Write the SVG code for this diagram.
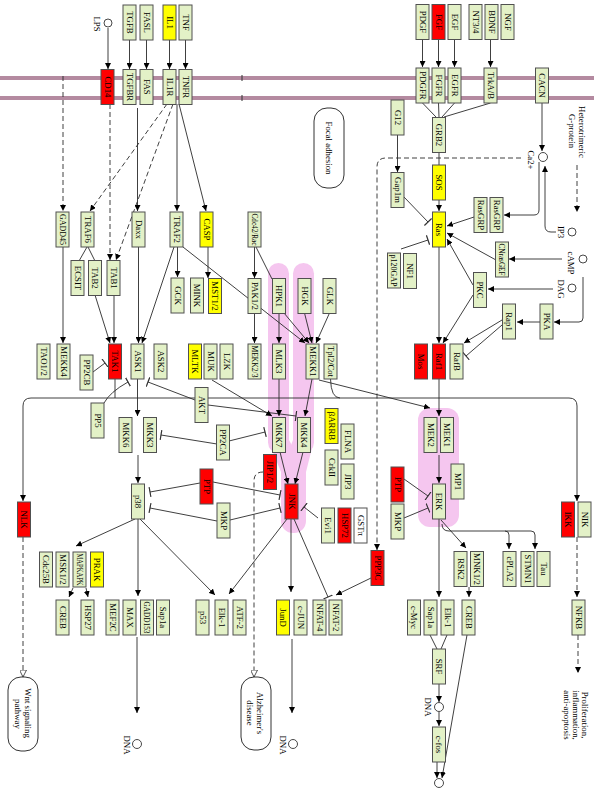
<svg xmlns="http://www.w3.org/2000/svg" width="600" height="792" viewBox="0 0 600 792">
<style>
.n rect{fill:#e3f1c7;stroke:#505050;stroke-width:1}
.n.r rect{fill:#ff0000}
.n.y rect{fill:#ffff00}
.n.w rect{fill:#ffffff}
text{font-family:"Liberation Serif",serif;font-size:8.8px;text-anchor:middle;dominant-baseline:central;fill:#000}
.e path{fill:none;stroke:#2a2a2a;stroke-width:0.9}
.e .d{stroke-dasharray:5 3}
.a{marker-end:url(#a)}
.t{marker-end:url(#t)}
.h{marker-end:url(#h)}
.mem{stroke:#b48aa0;stroke-width:4}
.pk{fill:#f5c6ef;stroke:none}
.c{fill:#fff;stroke:#333;stroke-width:0.9}
.box{fill:#fff;stroke:#333;stroke-width:1}
</style>
<defs>
<marker id="a" viewBox="0 0 10 10" refX="10" refY="5" markerWidth="6" markerHeight="6" markerUnits="userSpaceOnUse" orient="auto"><path d="M0,0 L10,5 L0,10 z" fill="#000"/></marker>
<marker id="h" viewBox="0 0 10 10" refX="10" refY="5" markerWidth="7" markerHeight="7" markerUnits="userSpaceOnUse" orient="auto"><path d="M0,0 L10,5 L0,10 z" fill="#fff" stroke="#333" stroke-width="1.2"/></marker>
<marker id="t" viewBox="-1 -5 2 10" refX="0" refY="0" markerWidth="2" markerHeight="10" markerUnits="userSpaceOnUse" orient="auto"><path d="M0,-5 V5" stroke="#333" stroke-width="1.2"/></marker>
</defs>
<rect width="600" height="792" fill="#fff"/>

<g id="membrane">
<line class="mem" x1="0" y1="78" x2="594" y2="78"/>
<line class="mem" x1="0" y1="98" x2="594" y2="98"/>
<line x1="242" y1="75" x2="242" y2="81" stroke="#333" stroke-width="1"/>
<line x1="242" y1="95" x2="242" y2="101" stroke="#333" stroke-width="1"/>
</g>

<g id="highlights">
<rect class="pk" x="268" y="263" width="21" height="190" rx="10.5"/>
<rect class="pk" x="293" y="263" width="21" height="190" rx="10.5"/>
<polygon class="pk" points="268,440 289,440 306,472 281,472"/>
<polygon class="pk" points="293,440 314,440 306,472 281,472"/>
<rect class="pk" x="281" y="450" width="25" height="83" rx="12"/>
<rect class="pk" x="418" y="408" width="41" height="119" rx="12"/>
</g>

<g id="edges" class="e">
<path class="a" d="M108,28 V69"/>
<path class="a" d="M129.5,40 V69"/>
<path class="a" d="M146.5,40 V69"/>
<path class="a" d="M169.5,40 V69"/>
<path class="a" d="M185.5,40 V69"/>
<path class="a" d="M422.5,39 V67"/>
<path class="a" d="M438.5,39 V67"/>
<path class="a" d="M454.5,39 V67"/>
<path class="a" d="M490.5,39 V67"/>
<path d="M422.5,103 L436,117"/>
<path d="M438.5,103 L439,117"/>
<path d="M454.5,103 L442,117"/>
<path d="M490.5,103 L444,117"/>
<path d="M439,153 V165"/>
<path class="a" d="M439,200 V211"/>
<path class="a" d="M542,103 V151"/>
<path class="a" d="M556,232 H551 Q545,232 545,226 V166"/>
<path class="a" d="M539,162 V210 Q539,215 534,215 H504"/>
<path class="a d" d="M577,165 V212"/>
<path class="a" d="M562,259 H509"/>
<path class="a" d="M553,289 H488"/>
<path class="a" d="M583,277 V318 Q583,322 579,322 H554"/>
<path class="a" d="M540,322 H517"/>
<path class="a" d="M502,320 L464,343"/>
<path class="t" d="M502,325 L466,356"/>
<path class="a" d="M439,247 V343"/>
<path class="a" d="M473,295 L443,343"/>
<path class="a" d="M473,285 L447,239"/>
<path class="a" d="M496,260 L447,233"/>
<path class="a" d="M474,217 L447,226"/>
<path class="t" d="M404,197 L428,222"/>
<path class="t" d="M401,249 L428,240"/>
<path class="a" d="M397.5,135 V172"/>
<path class="a d" d="M521,158 H386 Q377,158 377,167 V550"/>

<path class="a d" d="M167,104 L90,211"/>
<path class="a d" d="M173,104 L116,260"/>
<path class="a d" d="M110,104 V260"/>
<path class="a" d="M137.5,108 V211"/>
<path class="a" d="M177,104 V211"/>
<path class="a" d="M179,104 L206,211"/>
<path class="a d" d="M63,76 V211"/>
<path class="a" d="M63,247 V343"/>
<path d="M87,247 L79,261"/>
<path d="M88,247 L95,261"/>
<path class="a" d="M95,295 L110,343"/>
<path class="a" d="M114,295 V343"/>
<path class="a" d="M138.5,247 V343"/>
<path class="a" d="M174,247 L142,343"/>
<path class="a" d="M177.5,247 V277"/>
<path class="a" d="M183,247 L305,343"/>
<path class="a" d="M208,247 V278"/>
<path class="a" d="M254.5,247 V278"/>
<path d="M256,247 L272,279"/>
<path class="a" d="M254.5,313 V343"/>
<path class="a" d="M279,313 V343"/>
<path class="a" d="M284,313 L309,343"/>
<path class="a" d="M304.5,313 L312,343"/>
<path class="a" d="M329.5,313 L316,343"/>
<path class="t" d="M93,372 L105,363"/>

<path d="M115,379 V398"/>
<path class="a" d="M115,398 H31 Q23,398 23,406 V501"/>
<path class="a" d="M115,398 H569 Q577,398 577,406 V501"/>
<path d="M330.5,379 Q331,398 340,398"/>
<path class="a" d="M137.5,379 V416"/>
<path class="t" d="M104,403 Q110,392 128,382"/>
<path class="t" d="M195,400 L148,382"/>
<path class="t" d="M208,405 L296,416"/>
<path class="a" d="M212,380 L272,416"/>
<path class="a" d="M279,379 V416"/>
<path class="a" d="M312,379 L305,416"/>
<path class="a" d="M319,380 L430,408"/>
<path class="a" d="M439,379 V416"/>
<path class="t" d="M229,441 L265,432"/>
<path class="t" d="M217,444 L161,435"/>

<path class="a" d="M138,455 V483"/>
<path class="a" d="M280,452 L288,484"/>
<path class="a" d="M303,452 L295,484"/>
<path class="a" d="M439,455 V483"/>
<path class="t" d="M200,483 L150,492"/>
<path class="t" d="M217,521 L150,508"/>
<path class="t" d="M213,482 L280,495"/>
<path class="t" d="M230,520 L280,508"/>
<path class="t" d="M318,518 L304,507"/>
<path class="t" d="M404,479 L428,496"/>
<path class="t" d="M404,518 L428,508"/>

<path class="h d" d="M263,472 Q254,472 254,481 V677"/>
<path class="h d" d="M23,537 V677"/>

<path class="a" d="M135,519 L76,546"/>
<path class="a" d="M138,519 V596"/>
<path class="a" d="M140,519 L215,595"/>
<path class="a" d="M73,588 L69,597"/>
<path class="a" d="M86,588 L88,597"/>
<path class="a" d="M287,519 L229,594"/>
<path class="a" d="M291,519 V592"/>
<path class="t" d="M294,519 L328,597"/>
<path class="a" d="M371,578 L336,595"/>

<path class="a" d="M439,519 V597"/>
<path class="a" d="M441,520 L466,548"/>
<path class="a" d="M442,524 Q442,531 449,531 H505 Q509,531 509,535 V549"/>
<path class="a" d="M505,531 H531 Q535,531 535,535 V549"/>
<path class="a" d="M469,587 V597"/>
<path class="a d" d="M577,537 V597"/>
<path class="a d" d="M578,635 V673"/>

<path class="a" d="M137,637 V713"/>
<path class="a" d="M292,639 V713"/>
<path d="M430,635 L437,649"/>
<path d="M447,635 L441,649"/>
<path class="a" d="M439,684 V702"/>
<path class="a" d="M439,712 V726"/>
<path class="a" d="M437,762 V778"/>
<path class="a" d="M467,635 L442,778"/>
</g>

<g id="nodes">
<g id="n_TGFB" class="n" transform="translate(129.5 22.5)"><rect x="-6.5" y="-17.5" width="13" height="35"/><text transform="rotate(90)">TGFB</text></g>
<g id="n_FASL" class="n" transform="translate(146.5 22.5)"><rect x="-6.5" y="-17.5" width="13" height="35"/><text transform="rotate(90)">FASL</text></g>
<g id="n_IL1" class="n y" transform="translate(169.5 22.5)"><rect x="-6.5" y="-17.5" width="13" height="35"/><text transform="rotate(90)">IL1</text></g>
<g id="n_TNF" class="n" transform="translate(185.5 22.5)"><rect x="-6.5" y="-17.5" width="13" height="35"/><text transform="rotate(90)">TNF</text></g>
<g id="n_PDGF" class="n" transform="translate(422.5 22)"><rect x="-6.5" y="-17.5" width="13" height="35"/><text transform="rotate(90)">PDGF</text></g>
<g id="n_FGF" class="n r" transform="translate(438.5 22)"><rect x="-6.5" y="-17.5" width="13" height="35"/><text transform="rotate(90)">FGF</text></g>
<g id="n_EGF" class="n" transform="translate(454.5 22)"><rect x="-6.5" y="-17.5" width="13" height="35"/><text transform="rotate(90)">EGF</text></g>
<g id="n_NT34" class="n" transform="translate(475.5 22)"><rect x="-6.5" y="-17.5" width="13" height="35"/><text transform="rotate(90)">NT3/4</text></g>
<g id="n_BDNF" class="n" transform="translate(491.5 22)"><rect x="-6.5" y="-17.5" width="13" height="35"/><text transform="rotate(90)">BDNF</text></g>
<g id="n_NGF" class="n" transform="translate(507.5 22)"><rect x="-6.5" y="-17.5" width="13" height="35"/><text transform="rotate(90)">NGF</text></g>

<g id="n_CD14" class="n r" transform="translate(107.5 87)"><rect x="-6.5" y="-17.5" width="13" height="35"/><text transform="rotate(90)">CD14</text></g>
<g id="n_TGFBR" class="n" transform="translate(129.5 87)"><rect x="-6.5" y="-17.5" width="13" height="35"/><text transform="rotate(90)">TGFBR</text></g>
<g id="n_FAS" class="n" transform="translate(146.5 87)"><rect x="-6.5" y="-17.5" width="13" height="35"/><text transform="rotate(90)">FAS</text></g>
<g id="n_IL1R" class="n" transform="translate(169.5 87)"><rect x="-6.5" y="-17.5" width="13" height="35"/><text transform="rotate(90)">IL1R</text></g>
<g id="n_TNFR" class="n" transform="translate(185.5 87)"><rect x="-6.5" y="-17.5" width="13" height="35"/><text transform="rotate(90)">TNFR</text></g>
<g id="n_PDGFR" class="n" transform="translate(422.5 85.5)"><rect x="-6.5" y="-17.5" width="13" height="35"/><text transform="rotate(90)">PDGFR</text></g>
<g id="n_FGFR" class="n" transform="translate(438.5 85.5)"><rect x="-6.5" y="-17.5" width="13" height="35"/><text transform="rotate(90)">FGFR</text></g>
<g id="n_EGFR" class="n" transform="translate(454.5 85.5)"><rect x="-6.5" y="-17.5" width="13" height="35"/><text transform="rotate(90)">EGFR</text></g>
<g id="n_TrkAB" class="n" transform="translate(490.5 85.5)"><rect x="-6.5" y="-17.5" width="13" height="35"/><text transform="rotate(90)">TrkA/B</text></g>
<g id="n_CACN" class="n" transform="translate(542 85.5)"><rect x="-6.5" y="-17.5" width="13" height="35"/><text transform="rotate(90)">CACN</text></g>

<g id="n_G12" class="n" transform="translate(397.5 117.5)"><rect x="-6.5" y="-17.5" width="13" height="35"/><text transform="rotate(90)">G12</text></g>
<g id="n_GRB2" class="n" transform="translate(439 135)"><rect x="-6.5" y="-17.5" width="13" height="35"/><text transform="rotate(90)">GRB2</text></g>
<g id="n_SOS" class="n y" transform="translate(439 182.5)"><rect x="-6.5" y="-17.5" width="13" height="35"/><text transform="rotate(90)">SOS</text></g>
<g id="n_Gap1m" class="n" transform="translate(397.5 190)"><rect x="-6.5" y="-17.5" width="13" height="35"/><text transform="rotate(90)">Gap1m</text></g>
<g id="n_RasGRP1" class="n" transform="translate(480.5 215)"><rect x="-6.5" y="-17.5" width="13" height="35"/><text transform="rotate(90)">RasGRP</text></g>
<g id="n_RasGRP2" class="n" transform="translate(496.5 215)"><rect x="-6.5" y="-17.5" width="13" height="35"/><text transform="rotate(90)">RasGRP</text></g>
<g id="n_Ras" class="n y" transform="translate(439 229.5)"><rect x="-6.5" y="-17.5" width="13" height="35"/><text transform="rotate(90)">Ras</text></g>
<g id="n_CNrasGEF" class="n" transform="translate(502 259.5)"><rect x="-6.5" y="-17.5" width="13" height="35"/><text transform="rotate(90)" textLength="32" lengthAdjust="spacingAndGlyphs">CNrasGEF</text></g>
<g id="n_PKC" class="n" transform="translate(480 290)"><rect x="-6.5" y="-17.5" width="13" height="35"/><text transform="rotate(90)">PKC</text></g>
<g id="n_p120GAP" class="n" transform="translate(394 270.5)"><rect x="-6.5" y="-17.5" width="13" height="35"/><text transform="rotate(90)" textLength="32" lengthAdjust="spacingAndGlyphs">p120GAP</text></g>
<g id="n_NF1" class="n" transform="translate(410 271)"><rect x="-6.5" y="-17.5" width="13" height="35"/><text transform="rotate(90)">NF1</text></g>
<g id="n_PKA" class="n" transform="translate(546.5 321.5)"><rect x="-6.5" y="-17.5" width="13" height="35"/><text transform="rotate(90)">PKA</text></g>
<g id="n_Rap1" class="n" transform="translate(509 321.5)"><rect x="-6.5" y="-17.5" width="13" height="35"/><text transform="rotate(90)">Rap1</text></g>
<g id="n_RafB" class="n" transform="translate(456.5 361.5)"><rect x="-6.5" y="-17.5" width="13" height="35"/><text transform="rotate(90)">RafB</text></g>
<g id="n_Raf1" class="n r" transform="translate(439 361.5)"><rect x="-6.5" y="-17.5" width="13" height="35"/><text transform="rotate(90)">Raf1</text></g>
<g id="n_Mos" class="n r" transform="translate(421 361.5)"><rect x="-6.5" y="-17.5" width="13" height="35"/><text transform="rotate(90)">Mos</text></g>

<g id="n_GADD45" class="n" transform="translate(62.5 229.5)"><rect x="-6.5" y="-17.5" width="13" height="35"/><text transform="rotate(90)" textLength="31" lengthAdjust="spacingAndGlyphs">GADD45</text></g>
<g id="n_TRAF6" class="n" transform="translate(87.5 229.5)"><rect x="-6.5" y="-17.5" width="13" height="35"/><text transform="rotate(90)">TRAF6</text></g>
<g id="n_Daxx" class="n" transform="translate(138.5 229.5)"><rect x="-6.5" y="-17.5" width="13" height="35"/><text transform="rotate(90)">Daxx</text></g>
<g id="n_TRAF2" class="n" transform="translate(176.5 229.5)"><rect x="-6.5" y="-17.5" width="13" height="35"/><text transform="rotate(90)">TRAF2</text></g>
<g id="n_CASP" class="n y" transform="translate(206.5 229.5)"><rect x="-6.5" y="-17.5" width="13" height="35"/><text transform="rotate(90)">CASP</text></g>
<g id="n_Cdc42Rac" class="n" transform="translate(254.5 229.5)"><rect x="-6.5" y="-17.5" width="13" height="35"/><text transform="rotate(90)" textLength="32" lengthAdjust="spacingAndGlyphs">Cdc42/Rac</text></g>
<g id="n_ECSIT" class="n" transform="translate(77.5 278)"><rect x="-6.5" y="-17.5" width="13" height="35"/><text transform="rotate(90)">ECSIT</text></g>
<g id="n_TAB2" class="n" transform="translate(95 278)"><rect x="-6.5" y="-17.5" width="13" height="35"/><text transform="rotate(90)">TAB2</text></g>
<g id="n_TAB1" class="n" transform="translate(113.5 278)"><rect x="-6.5" y="-17.5" width="13" height="35"/><text transform="rotate(90)">TAB1</text></g>
<g id="n_GCK" class="n" transform="translate(177.5 295.5)"><rect x="-6.5" y="-17.5" width="13" height="35"/><text transform="rotate(90)">GCK</text></g>
<g id="n_MINK" class="n" transform="translate(197 295.5)"><rect x="-6.5" y="-17.5" width="13" height="35"/><text transform="rotate(90)">MINK</text></g>
<g id="n_MST12" class="n y" transform="translate(215 296)"><rect x="-6.5" y="-17.5" width="13" height="35"/><text transform="rotate(90)">MST1/2</text></g>
<g id="n_PAK12" class="n" transform="translate(254.5 296)"><rect x="-6.5" y="-17.5" width="13" height="35"/><text transform="rotate(90)">PAK1/2</text></g>
<g id="n_HPK1" class="n" transform="translate(279 296)"><rect x="-6.5" y="-17.5" width="13" height="35"/><text transform="rotate(90)">HPK1</text></g>
<g id="n_HGK" class="n" transform="translate(304.5 296)"><rect x="-6.5" y="-17.5" width="13" height="35"/><text transform="rotate(90)">HGK</text></g>
<g id="n_GLK" class="n" transform="translate(329.5 296)"><rect x="-6.5" y="-17.5" width="13" height="35"/><text transform="rotate(90)">GLK</text></g>

<g id="n_TAO12" class="n" transform="translate(43.5 361.5)"><rect x="-6.5" y="-17.5" width="13" height="35"/><text transform="rotate(90)">TAO1/2</text></g>
<g id="n_MEKK4" class="n" transform="translate(63.5 361.5)"><rect x="-6.5" y="-17.5" width="13" height="35"/><text transform="rotate(90)">MEKK4</text></g>
<g id="n_PP2CB" class="n" transform="translate(86.5 372.5)"><rect x="-6.5" y="-17.5" width="13" height="35"/><text transform="rotate(90)">PP2CB</text></g>
<g id="n_TAK1" class="n r" transform="translate(115 361.5)"><rect x="-6.5" y="-17.5" width="13" height="35"/><text transform="rotate(90)">TAK1</text></g>
<g id="n_ASK1" class="n" transform="translate(137.5 361.5)"><rect x="-6.5" y="-17.5" width="13" height="35"/><text transform="rotate(90)">ASK1</text></g>
<g id="n_ASK2" class="n" transform="translate(160.5 361.5)"><rect x="-6.5" y="-17.5" width="13" height="35"/><text transform="rotate(90)">ASK2</text></g>
<g id="n_MLTK" class="n y" transform="translate(195 361.5)"><rect x="-6.5" y="-17.5" width="13" height="35"/><text transform="rotate(90)">MLTK</text></g>
<g id="n_MUK" class="n" transform="translate(210.5 361.5)"><rect x="-6.5" y="-17.5" width="13" height="35"/><text transform="rotate(90)">MUK</text></g>
<g id="n_LZK" class="n" transform="translate(226.5 361.5)"><rect x="-6.5" y="-17.5" width="13" height="35"/><text transform="rotate(90)">LZK</text></g>
<g id="n_MEKK23" class="n" transform="translate(254.5 361.5)"><rect x="-6.5" y="-17.5" width="13" height="35"/><text transform="rotate(90)" textLength="32" lengthAdjust="spacingAndGlyphs">MEKK2/3</text></g>
<g id="n_MLK3" class="n" transform="translate(279 361.5)"><rect x="-6.5" y="-17.5" width="13" height="35"/><text transform="rotate(90)">MLK3</text></g>
<g id="n_MEKK1" class="n" transform="translate(312.5 361.5)"><rect x="-6.5" y="-17.5" width="13" height="35"/><text transform="rotate(90)">MEKK1</text></g>
<g id="n_Tpl2Cot" class="n" transform="translate(330.5 361.5)"><rect x="-6.5" y="-17.5" width="13" height="35"/><text transform="rotate(90)" textLength="31" lengthAdjust="spacingAndGlyphs">Tpl2/Cot</text></g>

<g id="n_AKT" class="n" transform="translate(201.5 405)"><rect x="-6.5" y="-17.5" width="13" height="35"/><text transform="rotate(90)">AKT</text></g>
<g id="n_PP5" class="n" transform="translate(97.5 420.5)"><rect x="-6.5" y="-17.5" width="13" height="35"/><text transform="rotate(90)">PP5</text></g>
<g id="n_MKK6" class="n" transform="translate(125.5 435)"><rect x="-6.5" y="-17.5" width="13" height="35"/><text transform="rotate(90)">MKK6</text></g>
<g id="n_MKK3" class="n" transform="translate(150 435)"><rect x="-6.5" y="-17.5" width="13" height="35"/><text transform="rotate(90)">MKK3</text></g>
<g id="n_PP2CA" class="n" transform="translate(223 442.5)"><rect x="-6.5" y="-17.5" width="13" height="35"/><text transform="rotate(90)">PP2CA</text></g>
<g id="n_MKK7" class="n" transform="translate(279 435)"><rect x="-6.5" y="-17.5" width="13" height="35"/><text transform="rotate(90)">MKK7</text></g>
<g id="n_MKK4" class="n" transform="translate(304 435)"><rect x="-6.5" y="-17.5" width="13" height="35"/><text transform="rotate(90)">MKK4</text></g>
<g id="n_bARRB" class="n y" transform="translate(331.5 426)"><rect x="-6.5" y="-17.5" width="13" height="35"/><text transform="rotate(90)">βARRB</text></g>
<g id="n_FLNA" class="n" transform="translate(347.5 441.5)"><rect x="-6.5" y="-17.5" width="13" height="35"/><text transform="rotate(90)">FLNA</text></g>
<g id="n_CrkII" class="n" transform="translate(331.5 467.5)"><rect x="-6.5" y="-17.5" width="13" height="35"/><text transform="rotate(90)">CrkII</text></g>
<g id="n_JIP3" class="n" transform="translate(347.5 481.5)"><rect x="-6.5" y="-17.5" width="13" height="35"/><text transform="rotate(90)">JIP3</text></g>
<g id="n_JIP12" class="n r" transform="translate(270 472)"><rect x="-6.5" y="-17.5" width="13" height="35"/><text transform="rotate(90)">JIP1/2</text></g>
<g id="n_JNK" class="n r" transform="translate(291.5 501.5)"><rect x="-6.5" y="-17.5" width="13" height="35"/><text transform="rotate(90)">JNK</text></g>
<g id="n_p38" class="n" transform="translate(138 501.5)"><rect x="-6.5" y="-17.5" width="13" height="35"/><text transform="rotate(90)">p38</text></g>
<g id="n_NLK" class="n r" transform="translate(24 519.5)"><rect x="-6.5" y="-17.5" width="13" height="35"/><text transform="rotate(90)">NLK</text></g>
<g id="n_PTP1" class="n r" transform="translate(206.5 486.5)"><rect x="-6.5" y="-17.5" width="13" height="35"/><text transform="rotate(90)">PTP</text></g>
<g id="n_MKP1" class="n" transform="translate(223.5 520.5)"><rect x="-6.5" y="-17.5" width="13" height="35"/><text transform="rotate(90)">MKP</text></g>
<g id="n_Evi1" class="n" transform="translate(328 525.5)"><rect x="-6.5" y="-17.5" width="13" height="35"/><text transform="rotate(90)">Evi1</text></g>
<g id="n_HSP72" class="n r" transform="translate(344.5 525.5)"><rect x="-6.5" y="-17.5" width="13" height="35"/><text transform="rotate(90)">HSP72</text></g>
<g id="n_GSTpi" class="n w" transform="translate(360.5 525.5)"><rect x="-6.5" y="-17.5" width="13" height="35"/><text transform="rotate(90)">GSTπ</text></g>
<g id="n_PTP2" class="n r" transform="translate(397.5 484.5)"><rect x="-6.5" y="-17.5" width="13" height="35"/><text transform="rotate(90)">PTP</text></g>
<g id="n_MKP2" class="n" transform="translate(397.5 521.5)"><rect x="-6.5" y="-17.5" width="13" height="35"/><text transform="rotate(90)">MKP</text></g>
<g id="n_PPP3C" class="n r" transform="translate(377.5 568)"><rect x="-6.5" y="-17.5" width="13" height="35"/><text transform="rotate(90)">PPP3C</text></g>
<g id="n_MEK2" class="n" transform="translate(430.5 435)"><rect x="-6.5" y="-17.5" width="13" height="35"/><text transform="rotate(90)">MEK2</text></g>
<g id="n_MEK1" class="n" transform="translate(447 435)"><rect x="-6.5" y="-17.5" width="13" height="35"/><text transform="rotate(90)">MEK1</text></g>
<g id="n_MP1" class="n" transform="translate(457.5 481.5)"><rect x="-6.5" y="-17.5" width="13" height="35"/><text transform="rotate(90)">MP1</text></g>
<g id="n_ERK" class="n" transform="translate(439 501.5)"><rect x="-6.5" y="-17.5" width="13" height="35"/><text transform="rotate(90)">ERK</text></g>
<g id="n_IKK" class="n r" transform="translate(568 519.5)"><rect x="-6.5" y="-17.5" width="13" height="35"/><text transform="rotate(90)">IKK</text></g>
<g id="n_NIK" class="n" transform="translate(584.5 519.5)"><rect x="-6.5" y="-17.5" width="13" height="35"/><text transform="rotate(90)">NIK</text></g>

<g id="n_Cdc25B" class="n" transform="translate(46 569.5)"><rect x="-6.5" y="-17.5" width="13" height="35"/><text transform="rotate(90)">Cdc25B</text></g>
<g id="n_MSK12" class="n" transform="translate(62.5 569.5)"><rect x="-6.5" y="-17.5" width="13" height="35"/><text transform="rotate(90)">MSK1/2</text></g>
<g id="n_MAPKAPK" class="n" transform="translate(79.5 569.5)"><rect x="-6.5" y="-17.5" width="13" height="35"/><text transform="rotate(90)" textLength="32" lengthAdjust="spacingAndGlyphs">MAPKAPK</text></g>
<g id="n_PRAK" class="n y" transform="translate(97 569.5)"><rect x="-6.5" y="-17.5" width="13" height="35"/><text transform="rotate(90)">PRAK</text></g>
<g id="n_RSK2" class="n" transform="translate(460.5 569)"><rect x="-6.5" y="-17.5" width="13" height="35"/><text transform="rotate(90)">RSK2</text></g>
<g id="n_MNK12" class="n" transform="translate(477 569)"><rect x="-6.5" y="-17.5" width="13" height="35"/><text transform="rotate(90)">MNK1/2</text></g>
<g id="n_cPLA2" class="n" transform="translate(509.5 569)"><rect x="-6.5" y="-17.5" width="13" height="35"/><text transform="rotate(90)">cPLA2</text></g>
<g id="n_STMN1" class="n" transform="translate(527.5 569)"><rect x="-6.5" y="-17.5" width="13" height="35"/><text transform="rotate(90)">STMN1</text></g>
<g id="n_Tau" class="n" transform="translate(543.5 569)"><rect x="-6.5" y="-17.5" width="13" height="35"/><text transform="rotate(90)">Tau</text></g>

<g id="n_CREB1" class="n" transform="translate(62.5 617.5)"><rect x="-6.5" y="-17.5" width="13" height="35"/><text transform="rotate(90)">CREB</text></g>
<g id="n_HSP27" class="n" transform="translate(87.5 617.5)"><rect x="-6.5" y="-17.5" width="13" height="35"/><text transform="rotate(90)">HSP27</text></g>
<g id="n_MEF2C" class="n" transform="translate(112.5 617.5)"><rect x="-6.5" y="-17.5" width="13" height="35"/><text transform="rotate(90)">MEF2C</text></g>
<g id="n_MAX" class="n" transform="translate(129.5 617.5)"><rect x="-6.5" y="-17.5" width="13" height="35"/><text transform="rotate(90)">MAX</text></g>
<g id="n_GADD153" class="n" transform="translate(147 617.5)"><rect x="-6.5" y="-17.5" width="13" height="35"/><text transform="rotate(90)" textLength="32" lengthAdjust="spacingAndGlyphs">GADD153</text></g>
<g id="n_Sap1a1" class="n" transform="translate(163 617.5)"><rect x="-6.5" y="-17.5" width="13" height="35"/><text transform="rotate(90)">Sap1a</text></g>
<g id="n_p53" class="n" transform="translate(202.5 617.5)"><rect x="-6.5" y="-17.5" width="13" height="35"/><text transform="rotate(90)">p53</text></g>
<g id="n_Elk11" class="n" transform="translate(221.5 617.5)"><rect x="-6.5" y="-17.5" width="13" height="35"/><text transform="rotate(90)">Elk-1</text></g>
<g id="n_ATF2" class="n" transform="translate(239.5 617.5)"><rect x="-6.5" y="-17.5" width="13" height="35"/><text transform="rotate(90)">ATF-2</text></g>
<g id="n_JunD" class="n y" transform="translate(283 617.5)"><rect x="-6.5" y="-17.5" width="13" height="35"/><text transform="rotate(90)">JunD</text></g>
<g id="n_cJUN" class="n" transform="translate(300.5 617.5)"><rect x="-6.5" y="-17.5" width="13" height="35"/><text transform="rotate(90)">c-JUN</text></g>
<g id="n_NFAT4" class="n" transform="translate(319.5 617.5)"><rect x="-6.5" y="-17.5" width="13" height="35"/><text transform="rotate(90)">NFAT-4</text></g>
<g id="n_NFAT2" class="n" transform="translate(335.5 617.5)"><rect x="-6.5" y="-17.5" width="13" height="35"/><text transform="rotate(90)">NFAT-2</text></g>
<g id="n_cMyc" class="n" transform="translate(414 617.5)"><rect x="-6.5" y="-17.5" width="13" height="35"/><text transform="rotate(90)">c-Myc</text></g>
<g id="n_Sap1a2" class="n" transform="translate(430.5 617.5)"><rect x="-6.5" y="-17.5" width="13" height="35"/><text transform="rotate(90)">Sap1a</text></g>
<g id="n_Elk12" class="n" transform="translate(447.5 617.5)"><rect x="-6.5" y="-17.5" width="13" height="35"/><text transform="rotate(90)">Elk-1</text></g>
<g id="n_CREB2" class="n" transform="translate(468.5 617.5)"><rect x="-6.5" y="-17.5" width="13" height="35"/><text transform="rotate(90)">CREB</text></g>
<g id="n_NFKB" class="n" transform="translate(578.5 617.5)"><rect x="-6.5" y="-17.5" width="13" height="35"/><text transform="rotate(90)">NFKB</text></g>
<g id="n_SRF" class="n" transform="translate(439 666.5)"><rect x="-6.5" y="-17.5" width="13" height="35"/><text transform="rotate(90)">SRF</text></g>
<g id="n_cfos" class="n" transform="translate(439 744.5)"><rect x="-6.5" y="-17.5" width="13" height="35"/><text transform="rotate(90)">c-fos</text></g>
</g>

<g id="compounds">
<circle class="c" cx="108" cy="23" r="4"/>
<text transform="translate(97 24) rotate(90)">LPS</text>
<circle class="c" cx="543" cy="157" r="4.5"/>
<text transform="translate(531 160) rotate(90)">Ca2+</text>
<circle class="c" cx="572" cy="232" r="4"/>
<text transform="translate(561 232) rotate(90)">IP3</text>
<circle class="c" cx="583" cy="259" r="4"/>
<text transform="translate(571 263) rotate(90)">cAMP</text>
<circle class="c" cx="572" cy="288" r="4"/>
<text transform="translate(561 289) rotate(90)">DAG</text>
<circle class="c" cx="137" cy="744" r="4.5"/>
<text transform="translate(127 745) rotate(90)">DNA</text>
<circle class="c" cx="293" cy="744" r="4.5"/>
<text transform="translate(283 745) rotate(90)">DNA</text>
<circle class="c" cx="439" cy="707" r="4.5"/>
<text transform="translate(428 707) rotate(90)">DNA</text>
<circle class="c" cx="439" cy="783" r="4.5"/>
</g>

<g id="labels">
<text transform="translate(582 132) rotate(90)">Heterotrimeric</text>
<text transform="translate(572 131) rotate(90)">G-protein</text>
<text transform="translate(585 715) rotate(90)">Proliferation,</text>
<text transform="translate(576 715) rotate(90)">inflammation,</text>
<text transform="translate(567 715) rotate(90)">anti-apoptosis</text>
</g>

<g id="n_focal">
<rect class="box" x="314" y="108" width="30" height="80" rx="13"/>
<text transform="translate(329 148) rotate(90)">Focal adhesion</text>
</g>
<g id="n_wnt">
<rect class="box" x="8" y="677" width="30" height="74" rx="13"/>
<text transform="translate(28 713) rotate(90)">Wnt signaling</text>
<text transform="translate(18 714) rotate(90)">pathway</text>
</g>
<g id="n_alz">
<rect class="box" x="241" y="677" width="30" height="73" rx="13"/>
<text transform="translate(260 713) rotate(90)">Alzheimer's</text>
<text transform="translate(250 713) rotate(90)">disease</text>
</g>
</svg>
